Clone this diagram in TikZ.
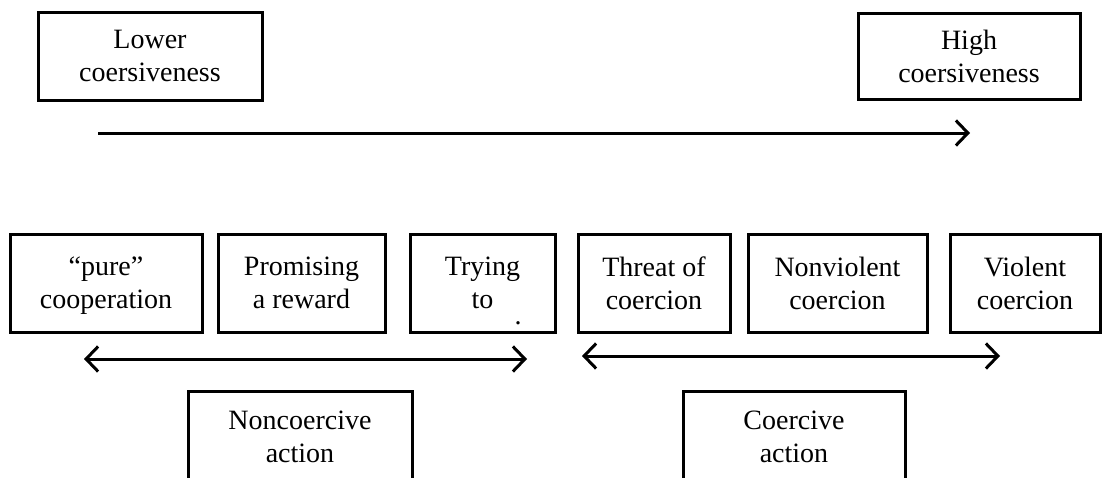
\documentclass[tikz,border=0pt]{standalone}
\usepackage{fontspec}
\setmainfont{Liberation Serif}
\usetikzlibrary{arrows.meta}
\tikzset{
  box/.style={draw, line width=3pt, align=center, inner sep=0pt,
    font=\fontsize{28}{33}\selectfont},
  barb/.tip={Straight Barb[length=12pt,width=25pt,line width=3pt]},
  axis/.style={line width=3pt, -barb},
  axis2/.style={line width=3pt, barb-barb}
}
\begin{document}
\begin{tikzpicture}[x=1pt,y=-1pt]
\useasboundingbox (0,0) rectangle (1103,477);
\fill[white] (0,0) rectangle (1103,477);
\begin{scope}
\clip (0,0) rectangle (1103,477);
% top boxes
\node[box, minimum width=224pt, minimum height=88pt] (low) at (150,56) {Lower\\coersiveness};
\node[box, minimum width=222pt, minimum height=86pt] (high) at (969,56) {High\\coersiveness};
% row boxes
\node[box, minimum width=192pt, minimum height=98pt] (pure) at (106,283) {“pure”\\\raisebox{0pt}[\height][0pt]{cooperation}};
\node[box, minimum width=167pt, minimum height=98pt] (prom) at (301.5,283) {Promising\\a reward};
\node[box, minimum width=145pt, minimum height=98pt] (try) at (482.5,283) {Trying\\to};
\node[font=\fontsize{28}{33}\selectfont, inner sep=0pt, anchor=base] (dot) at (518,324) {.};
\node[box, minimum width=152pt, minimum height=98pt] (threat) at (654,283) {Threat of\\coercion};
\node[box, minimum width=179pt, minimum height=98pt] (nonv) at (837.5,283) {Nonviolent\\coercion};
\node[box, minimum width=150pt, minimum height=98pt] (viol) at (1025,283) {Violent\\coercion};
% bottom boxes (cut off by the page edge)
\node[box, minimum width=224pt, minimum height=92pt] (nonc) at (300,437) {Noncoercive\\action};
\node[box, minimum width=222pt, minimum height=92pt] (coer) at (794,437) {Coercive\\action};
\end{scope}
% arrows
\coordinate (a0) at (98,133);
\coordinate (a1) at (970,133);
\coordinate (b0) at (84,359);
\coordinate (b1) at (527,359);
\coordinate (c0) at (582,356);
\coordinate (c1) at (1000,356);
\draw[axis] (a0) -- (a1);
\draw[axis2] (b0) -- (b1);
\draw[axis2] (c0) -- (c1);
\end{tikzpicture}
\end{document}
